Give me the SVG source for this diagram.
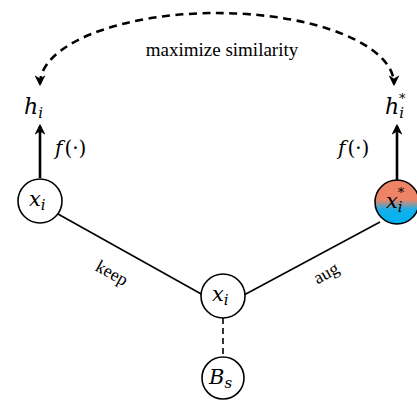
<svg xmlns="http://www.w3.org/2000/svg" width="417" height="400" viewBox="0 0 417 400">
<style>
.node{fill:#fff;stroke:#000;stroke-width:1.6}
.m{font-family:"DejaVu Serif","Liberation Serif",serif;font-style:italic;fill:#000}
.t{font-family:"Liberation Serif",serif;fill:#000}
.edge{stroke:#000;stroke-width:1.6;fill:none}
.arr{stroke:#000;stroke-width:2.6;fill:none}
</style>
<defs>
<marker id="ah" viewBox="0 0 10 10" refX="8" refY="5" markerWidth="4.2" markerHeight="4.2" markerUnits="strokeWidth" orient="auto-start-reverse">
<path d="M0,0 L10,5 L0,10 L3,5 z" fill="#000"/>
</marker>
<linearGradient id="grad" x1="0" y1="0" x2="0" y2="1">
<stop offset="0" stop-color="#EE8466"/>
<stop offset="0.45" stop-color="#EE8466"/>
<stop offset="0.68" stop-color="#12B0EC"/>
<stop offset="1" stop-color="#00B0F0"/>
</linearGradient>
</defs>
<g id="connectors">
<path class="arr" d="M40,84 A177,71 0 0 1 394,84" stroke-dasharray="8,5.5" marker-start="url(#ah)" marker-end="url(#ah)"/>
<line class="arr" x1="40" y1="178" x2="40" y2="126" marker-end="url(#ah)"/>
<line class="arr" x1="397" y1="180" x2="397" y2="126" marker-end="url(#ah)"/>
<line class="edge" x1="58" y1="214" x2="203" y2="295"/>
<line class="edge" x1="380" y1="222" x2="244" y2="295"/>
<line class="edge" x1="223" y1="318" x2="223" y2="357" stroke-dasharray="6,4"/>
<text class="t" x="222" y="56" font-size="19" text-anchor="middle">maximize similarity</text>
<text class="t" x="112" y="279" font-size="18" text-anchor="middle" transform="rotate(29 112 273)">keep</text>
<text class="t" x="326" y="279" font-size="18" text-anchor="middle" transform="rotate(-29 326 273)">aug</text>
<text class="m" x="55" y="155" font-size="20">f<tspan font-style="normal" dx="2">(·)</tspan></text>
<text class="m" x="338" y="155" font-size="20">f<tspan font-style="normal" dx="2">(·)</tspan></text>
</g>
<g id="h_i">
<text class="m" x="24" y="114" font-size="22">h<tspan font-size="15" dy="4">i</tspan></text>
</g>
<g id="h_i_star">
<text class="m" x="385" y="114" font-size="22">h<tspan font-size="15" dy="4">i</tspan><tspan font-size="13" dx="-5" dy="-15" font-style="normal">*</tspan></text>
</g>
<g id="x_i_left">
<circle class="node" cx="40" cy="201" r="22"/>
<text class="m" x="29" y="206" font-size="21">x<tspan font-size="15" dy="4">i</tspan></text>
</g>
<g id="x_i_aug">
<circle class="node" cx="397" cy="202" r="22" style="fill:url(#grad)"/>
<text class="m" x="386" y="208" font-size="21">x<tspan font-size="15" dy="4">i</tspan><tspan font-size="13" dx="-5" dy="-15" font-style="normal">*</tspan></text>
</g>
<g id="x_i_center">
<circle class="node" cx="223" cy="296" r="22"/>
<text class="m" x="212" y="301" font-size="21">x<tspan font-size="15" dy="4">i</tspan></text>
</g>
<g id="B_s">
<circle class="node" cx="223" cy="378" r="21"/>
<text class="m" x="209" y="384" font-size="21">B<tspan font-size="15" dy="4">s</tspan></text>
</g>
</svg>
